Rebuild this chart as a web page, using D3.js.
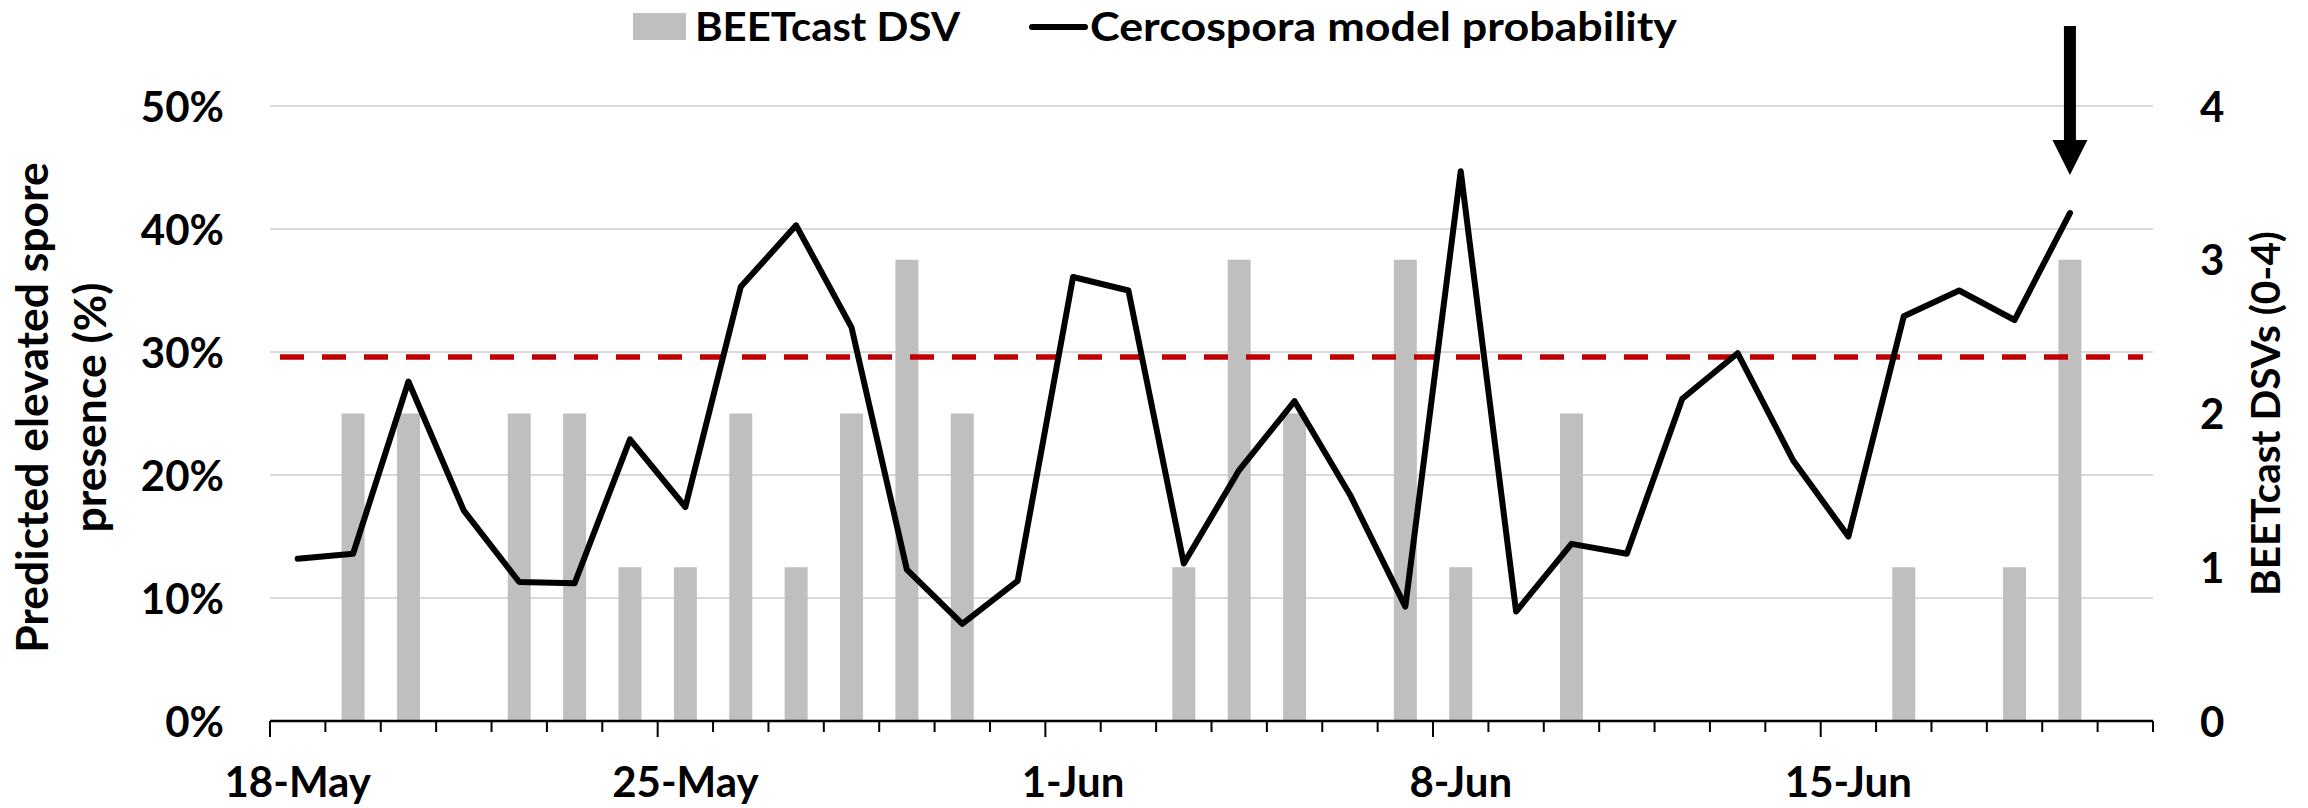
<!DOCTYPE html>
<html>
<head>
<meta charset="utf-8">
<script src="https://cdn.jsdelivr.net/npm/d3@7"></script>
<style>
  body { margin: 0; background: #fff; }
  svg text { font-family: Lato, "Liberation Sans", sans-serif; font-weight: bold; fill: #000; }
</style>
</head>
<body>
<div id="chart"></div>
<script>
// one category per day, 18-May .. 20-Jun
const days = [
  "18-May", "19-May", "20-May", "21-May", "22-May", "23-May", "24-May",
  "25-May", "26-May", "27-May", "28-May", "29-May", "30-May", "31-May",
  "1-Jun", "2-Jun", "3-Jun", "4-Jun", "5-Jun", "6-Jun", "7-Jun",
  "8-Jun", "9-Jun", "10-Jun", "11-Jun", "12-Jun", "13-Jun", "14-Jun",
  "15-Jun", "16-Jun", "17-Jun", "18-Jun", "19-Jun", "20-Jun"
];
const tickLabels = ["18-May", "25-May", "1-Jun", "8-Jun", "15-Jun"];

// BEETcast daily severity values (0-4), null = no value
const dsv = [
  0, 2, 2, 0, 2, 2, 1, 1, 2, 1, 2, 3, 2, 0, 0, 0, 1,
  3, 2, 0, 3, 1, 0, 2, 0, 0, 0, 0, 0, 1, 0, 1, 3, null
];

// Cercospora model probability (%)
const probability = [
  13.2, 13.6, 27.6, 17.1, 11.3, 11.2, 22.9, 17.4, 35.3, 40.3, 32.0,
  12.3, 7.9, 11.4, 36.1, 35.0, 12.8, 20.4, 26.0, 18.4, 9.3, 44.7,
  8.9, 14.4, 13.6, 26.2, 29.9, 21.2, 15.0, 32.9, 35.0, 32.6, 41.3, null
];

const threshold = 29.6;          // red dashed action threshold (%)
const leftTicks = [0, 10, 20, 30, 40, 50];
const rightTicks = [0, 1, 2, 3, 4];
const arrowDay = "19-Jun";
const arrowFrom = 56.5, arrowTo = 44.4; // arrow extent in % units

const width = 2308, height = 808;
const margin = {top: 106, right: 155, bottom: 87, left: 270};

const svg = d3.select("#chart").append("svg")
    .attr("width", width)
    .attr("height", height);

// scales
const x = d3.scaleBand()
    .domain(days)
    .range([margin.left, width - margin.right]);
const xc = d => x(d) + x.bandwidth() / 2;
const yL = d3.scaleLinear().domain([0, 50]).range([height - margin.bottom, margin.top]);
const yR = d3.scaleLinear().domain([0, 4]).range([height - margin.bottom, margin.top]);

const x0 = x.range()[0], x1 = x.range()[1];

// gridlines
svg.append("g")
  .selectAll("line")
  .data(leftTicks.filter(d => d > 0))
  .join("line")
    .attr("x1", x0)
    .attr("x2", x1)
    .attr("y1", d => yL(d))
    .attr("y2", d => yL(d))
    .attr("stroke", "#d9d9d9")
    .attr("stroke-width", 2);

// bars
const barW = x.bandwidth() * 0.415;
svg.append("g")
  .selectAll("rect")
  .data(days.map((d, i) => ({day: d, v: dsv[i]})).filter(d => d.v))
  .join("rect")
    .attr("x", d => xc(d.day) - barW / 2)
    .attr("width", barW)
    .attr("y", d => yR(d.v))
    .attr("height", d => yR(0) - yR(d.v))
    .attr("fill", "#bfbfbf");

// threshold
svg.append("line")
    .attr("x1", x0 + 10)
    .attr("x2", x1 - 10)
    .attr("y1", yL(threshold))
    .attr("y2", yL(threshold))
    .attr("stroke", "#c00000")
    .attr("stroke-width", 5.5)
    .attr("stroke-dasharray", "24,18");

// probability line
const line = d3.line()
    .defined(d => d.v != null)
    .x(d => xc(d.day))
    .y(d => yL(d.v));
svg.append("path")
    .datum(days.map((d, i) => ({day: d, v: probability[i]})))
    .attr("fill", "none")
    .attr("stroke", "#000")
    .attr("stroke-width", 6)
    .attr("stroke-linejoin", "round")
    .attr("stroke-linecap", "round")
    .attr("d", line);

// x axis: line + day ticks (long every week) + labels centered on category
const xAxis = svg.append("g");
xAxis.append("line")
    .attr("x1", x0).attr("x2", x1)
    .attr("y1", yL(0)).attr("y2", yL(0))
    .attr("stroke", "#000").attr("stroke-width", 2.5);
xAxis.selectAll(".tick-mark")
  .data(d3.range(days.length + 1))
  .join("line")
    .attr("class", "tick-mark")
    .attr("x1", i => x0 + i * x.step())
    .attr("x2", i => x0 + i * x.step())
    .attr("y1", yL(0))
    .attr("y2", i => yL(0) + (i % 7 === 0 ? 16 : 11))
    .attr("stroke", "#000")
    .attr("stroke-width", 2);

svg.append("g")
    .attr("transform", `translate(0,${yL(0)})`)
    .call(d3.axisBottom(x).tickValues(tickLabels).tickSize(0).tickPadding(46))
    .call(g => g.select(".domain").remove())
    .call(g => g.selectAll("text").attr("font-size", 42).attr("font-family", null));

// left axis
svg.append("g")
    .attr("transform", `translate(${x0},0)`)
    .call(d3.axisLeft(yL).tickValues(leftTicks).tickFormat(d => d + "%").tickSize(0).tickPadding(46))
    .call(g => g.select(".domain").remove())
    .call(g => g.selectAll("text").attr("font-size", 42).attr("font-family", null).attr("dy", "0.36em"));

// right axis
svg.append("g")
    .attr("transform", `translate(${x1},0)`)
    .call(d3.axisRight(yR).tickValues(rightTicks).tickFormat(d3.format("d")).tickSize(0).tickPadding(47))
    .call(g => g.select(".domain").remove())
    .call(g => g.selectAll("text").attr("font-size", 42).attr("font-family", null).attr("dy", "0.36em"));

// axis titles
const leftTitle = svg.append("text")
    .attr("transform", `translate(48,${(yL(0) + yL(50)) / 2 - 6}) rotate(-90)`)
    .attr("text-anchor", "middle")
    .attr("font-size", 44.5);
leftTitle.append("tspan").attr("x", 0).attr("y", 0).text("Predicted elevated spore");
leftTitle.append("tspan").attr("x", 0).attr("y", 58).text("presence (%)");

svg.append("text")
    .attr("transform", `translate(2280,${(yR(0) + yR(4)) / 2}) rotate(-90)`)
    .attr("text-anchor", "middle")
    .attr("font-size", 40.5)
    .text("BEETcast DSVs (0-4)");

// arrow pointing at the last day
const ax = xc(arrowDay), headH = 35, headW = 35;
svg.append("rect")
    .attr("x", ax - 6)
    .attr("width", 12)
    .attr("y", yL(arrowFrom))
    .attr("height", yL(arrowTo) - headH - yL(arrowFrom) + 1)
    .attr("fill", "#000");
svg.append("path")
    .attr("d", `M${ax - headW / 2},${yL(arrowTo) - headH} L${ax + headW / 2},${yL(arrowTo) - headH} L${ax},${yL(arrowTo)} Z`)
    .attr("fill", "#000");

// legend
const legend = svg.append("g");
legend.append("rect")
    .attr("x", 633).attr("y", 13)
    .attr("width", 53).attr("height", 27)
    .attr("fill", "#bfbfbf");
legend.append("text")
    .attr("x", 695).attr("y", 41)
    .attr("font-size", 40)
    .attr("textLength", 265)
    .attr("lengthAdjust", "spacingAndGlyphs")
    .text("BEETcast DSV");
legend.append("line")
    .attr("x1", 1032).attr("x2", 1085)
    .attr("y1", 27).attr("y2", 27)
    .attr("stroke", "#000").attr("stroke-width", 6)
    .attr("stroke-linecap", "round");
legend.append("text")
    .attr("x", 1090).attr("y", 41)
    .attr("font-size", 40)
    .attr("textLength", 587)
    .attr("lengthAdjust", "spacingAndGlyphs")
    .text("Cercospora model probability");
</script>
</body>
</html>
